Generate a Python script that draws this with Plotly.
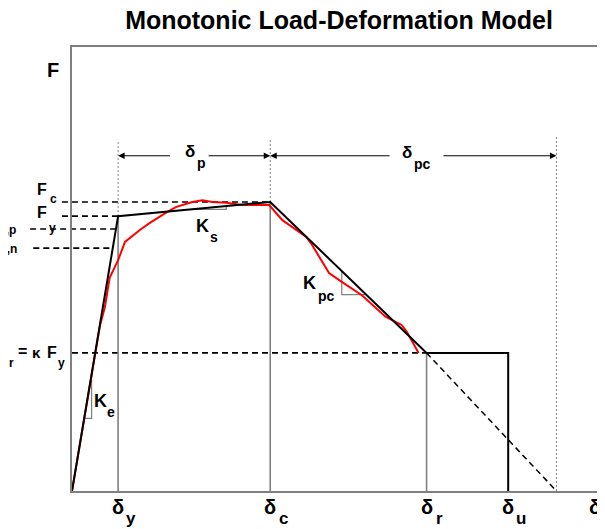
import plotly.graph_objects as go

# ---------------- data (chart units: deformation 0..10, force 0..10) ----------------
X_RANGE = [0, 10]
Y_RANGE = [0, 10]

delta_names = ["y", "c", "r", "u"]
delta_vals = [0.87, 3.74, 6.69, 8.23]     # delta_y, delta_c, delta_r, delta_u
delta_zero = 9.14                          # post-capping branch reaches zero force
delta_label_x = 9.87                       # plain "δ" axis label

F_y = 6.19
F_c = 6.51
F_r = 3.11
F_yp = 5.90
F_yn = 5.47

# measured (red) test curve
test_x = [0.0, 0.23, 0.41, 0.53, 0.62, 0.71, 0.87, 1.0, 1.28, 1.47, 1.79, 1.97, 2.27,
          2.46, 2.65, 2.91, 3.21, 3.72, 3.97, 4.42, 4.53, 4.85, 5.09, 5.47, 5.92, 6.22,
          6.32, 6.49, 6.54]
test_y = [0.0, 1.60, 2.95, 3.74, 4.14, 4.80, 5.20, 5.61, 5.88, 6.04, 6.28, 6.40, 6.51,
          6.55, 6.51, 6.49, 6.44, 6.44, 6.10, 5.72, 5.54, 4.91, 4.71, 4.41, 3.92, 3.74,
          3.58, 3.24, 3.11]

title_text = "Monotonic Load-Deformation Model"

# ---------------- derived ----------------
d_y, d_c, d_r, d_u = delta_vals
backbone_x = [0, d_y, d_c, d_r, d_u, d_u]
backbone_y = [0, F_y, F_c, F_r, F_r, 0]

arrow_level = 7.55
guide_top = 7.91
end_guide_top = 8.02

FONT = "Arial, 'Liberation Sans', Helvetica, sans-serif"
GRAY = "#808080"

# page offset caused by the default body margin of the html page
OFF = 8
# plot area, in page pixels
PL, PR, PT, PB = 72, 604, 47, 491
W, H = 597, 521
L, T = PL - OFF, PT - OFF
R = W - (PR - OFF)
B = H - (PB - OFF)
PW = PR - PL
PH = PB - PT


def px_to_paper_x(px):
    return (px - PL) / PW


def px_to_paper_y(py):
    return (PB - py) / PH


def to_paper_x(x):
    return (x - X_RANGE[0]) / (X_RANGE[1] - X_RANGE[0])


def line_y(x, x0, y0, x1, y1):
    return y0 + (y1 - y0) * (x - x0) / (x1 - x0)


fig = go.Figure()


def add_line(xs, ys, color="black", width=2, dash="solid"):
    fig.add_trace(go.Scatter(x=xs, y=ys, mode="lines", hoverinfo="skip",
                             line=dict(color=color, width=width, dash=dash),
                             showlegend=False))


# solid gray guide verticals
for dv, top in [(d_y, F_y), (d_c, F_c), (d_r, F_r)]:
    add_line([dv, dv], [0, top], color=GRAY, width=1.6)

# dotted guide verticals
add_line([d_y, d_y], [F_y, guide_top], color=GRAY, width=1, dash="2px,2px")
add_line([d_c, d_c], [F_c, guide_top], color=GRAY, width=1, dash="2px,2px")
add_line([delta_zero, delta_zero], [0, end_guide_top], color=GRAY, width=1, dash="2px,2px")


# slope triangles
def tri_up(xa, xb, x0, y0, x1, y1):
    ya = line_y(xa, x0, y0, x1, y1)
    yb = line_y(xb, x0, y0, x1, y1)
    add_line([xa, xb, xb], [ya, ya, yb], color=GRAY, width=1.2)


def tri_down(xa, xb, x0, y0, x1, y1):
    ya = line_y(xa, x0, y0, x1, y1)
    yb = line_y(xb, x0, y0, x1, y1)
    add_line([xa, xa, xb], [ya, yb, yb], color=GRAY, width=1.2)


tri_up(0.23, 0.37, 0, 0, d_y, F_y)            # K_e
tri_up(2.26, 2.91, d_y, F_y, d_c, F_c)        # K_s
tri_down(5.09, 5.55, d_c, F_c, d_r, F_r)      # K_pc

# red test curve
add_line(test_x, test_y, color="#ff0000", width=2)

# dashed residual extension
add_line([d_r, delta_zero], [F_r, 0], color="black", width=1.5, dash="6px,4px")

# backbone
add_line(backbone_x, backbone_y, color="black", width=2)

# horizontal dashed force lines (shapes so they can extend into the margin)
shapes = []


def hdash(x_start, x_end, yv):
    shapes.append(dict(type="line", xref="paper", yref="y",
                       x0=to_paper_x(x_start), x1=to_paper_x(x_end), y0=yv, y1=yv,
                       line=dict(color="black", width=1.6, dash="6px,4px"), layer="below"))


hdash(-0.19, d_c, F_c)
hdash(-0.19, d_y, F_y)
hdash(-0.79, F_yp / F_y * d_y, F_yp)
hdash(-0.73, F_yn / F_y * d_y, F_yn)
hdash(0, d_r, F_r)

annotations = []


def txt(text, x, y, size, xref="x", yref="y", xanchor="center", yanchor="middle",
        xshift=0, yshift=0):
    annotations.append(dict(text=text, x=x, y=y, xref=xref, yref=yref,
                            xanchor=xanchor, yanchor=yanchor, showarrow=False,
                            xshift=xshift, yshift=yshift,
                            font=dict(family=FONT, size=size, color="black", weight="bold")))


def arrow(tip_x, tail_x, yv):
    annotations.append(dict(x=tip_x, y=yv, ax=tail_x, ay=yv, xref="x", yref="y",
                            axref="x", ayref="y", text="", showarrow=True,
                            arrowhead=2, arrowsize=1.3, arrowwidth=1, arrowcolor="black",
                            standoff=0, startstandoff=0))


# span arrows
arrow(d_y, 1.88, arrow_level)
arrow(d_c, 2.55, arrow_level)
arrow(d_c, 6.02, arrow_level)
arrow(delta_zero, 6.98, arrow_level)
txt("δ", 2.23, arrow_level, 17, yshift=4)
txt("p", 2.23, arrow_level, 14, xshift=11, yshift=-7)
txt("δ", 6.33, arrow_level, 17, yshift=3)
txt("pc", 6.33, arrow_level, 14, xshift=15, yshift=-8)

# slope labels
txt("K", 2.46, 5.97, 18)
txt("s", 2.46, 5.97, 14, xshift=12, yshift=-11)
txt("K", 4.49, 4.68, 18)
txt("pc", 4.49, 4.68, 14, xshift=17, yshift=-13)
txt("K", 0.545, 2.03, 18)
txt("e", 0.545, 2.03, 14, xshift=10, yshift=-11)

# bottom deformation labels
bot_y = px_to_paper_y(507)
for name, dv in zip(delta_names, delta_vals):
    txt("δ", dv, bot_y, 20, yref="paper")
    txt(name, dv, bot_y, 17, yref="paper", xshift=13, yshift=-11)
txt("δ", delta_label_x, bot_y, 20, yref="paper")

# left force labels
txt("F", px_to_paper_x(53), px_to_paper_y(70), 20, xref="paper", yref="paper")
txt("F", px_to_paper_x(42), F_c, 16, xref="paper", yshift=12)
txt("c", px_to_paper_x(53), F_c, 12, xref="paper", yshift=3)
txt("F", px_to_paper_x(42), F_y, 16, xref="paper", yshift=4)
txt("y", px_to_paper_x(52), F_y, 12, xref="paper", yshift=-12)
txt("F", px_to_paper_x(0), F_yp, 16, xref="paper", xanchor="right", yshift=8)
txt("y,p", px_to_paper_x(18), F_yp, 12, xref="paper", xanchor="right", yshift=-1)
txt("F", px_to_paper_x(0), F_yn, 16, xref="paper", xanchor="right", yshift=8)
txt("y,n", px_to_paper_x(19), F_yn, 12, xref="paper", xanchor="right", yshift=-1)
txt("F", px_to_paper_x(2), F_r, 16, xref="paper", xanchor="right", yshift=0)
txt("r", px_to_paper_x(11), F_r, 12, xref="paper", yshift=-10)
txt("=", px_to_paper_x(22), F_r, 16, xref="paper", yshift=1)
txt("κ", px_to_paper_x(36), F_r, 15, xref="paper", yshift=0)
txt("F", px_to_paper_x(52), F_r, 16, xref="paper", yshift=0)
txt("y", px_to_paper_x(61), F_r, 12, xref="paper", yshift=-10)

fig.update_layout(
    width=W, height=H,
    margin=dict(l=L, r=R, t=T, b=B),
    paper_bgcolor="white", plot_bgcolor="white",
    showlegend=False,
    title=dict(text=title_text, x=px_to_paper_x(340), xref="paper", xanchor="center",
               y=1 - (20 - OFF) / H, yref="container", yanchor="middle",
               font=dict(family=FONT, size=25, color="black", weight="bold")),
    xaxis=dict(range=X_RANGE, showgrid=False, zeroline=False, showticklabels=False,
               ticks="", showline=True, mirror=True, linecolor=GRAY, linewidth=2,
               fixedrange=True),
    yaxis=dict(range=Y_RANGE, showgrid=False, zeroline=False, showticklabels=False,
               ticks="", showline=True, mirror=True, linecolor=GRAY, linewidth=2,
               fixedrange=True),
    shapes=shapes,
    annotations=annotations,
)

fig.write_html("out.html")
